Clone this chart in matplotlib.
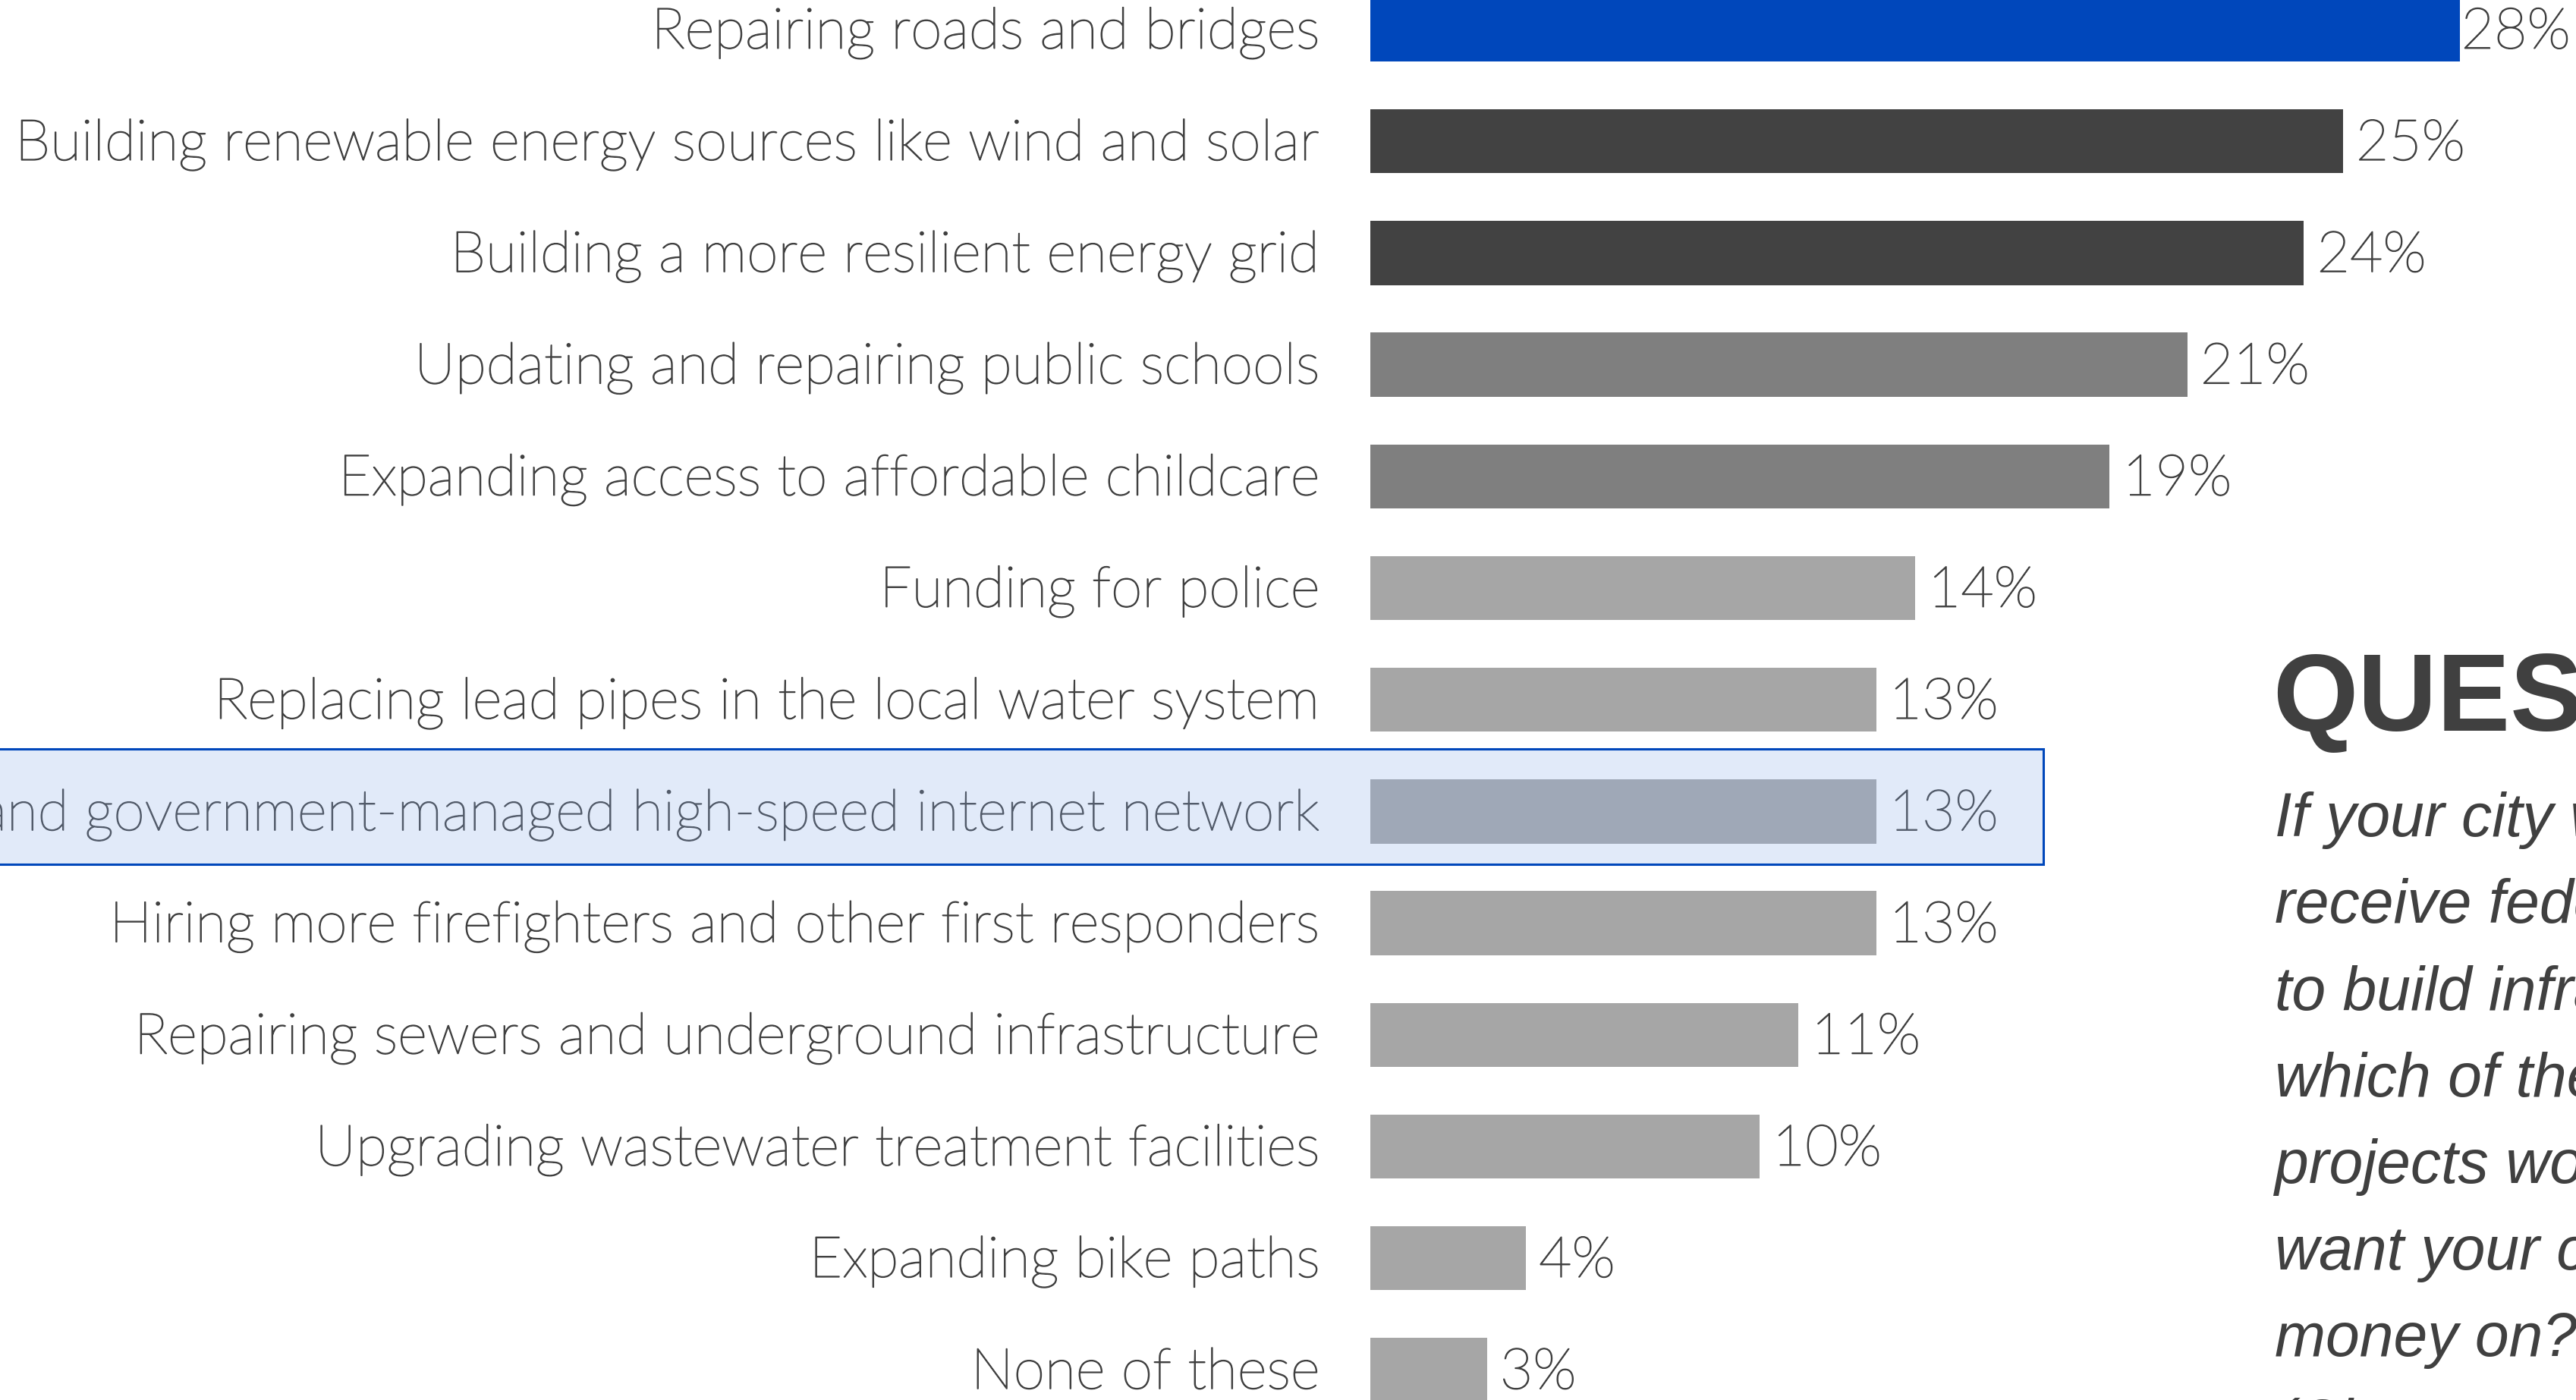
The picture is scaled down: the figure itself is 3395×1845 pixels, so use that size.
import matplotlib
matplotlib.use("Agg")
import matplotlib.pyplot as plt
import matplotlib.patheffects as pe
from matplotlib.patches import Rectangle

# survey results, top to bottom
projects = [
    "Repairing roads and bridges",
    "Building renewable energy sources like wind and solar",
    "Building a more resilient energy grid",
    "Updating and repairing public schools",
    "Expanding access to affordable childcare",
    "Funding for police",
    "Replacing lead pipes in the local water system",
    "Building a city-owned and government-managed high-speed internet network",
    "Hiring more firefighters and other first responders",
    "Repairing sewers and underground infrastructure",
    "Upgrading wastewater treatment facilities",
    "Expanding bike paths",
    "None of these",
]
shares = [28, 25, 24, 21, 19, 14, 13, 13, 13, 11, 10, 4, 3]
tiers = ["top", "dark", "dark", "mid", "mid", "light", "light", "light",
         "light", "light", "light", "light", "light"]
highlight_row = 7

question_title = "QUESTION"
question_lines = [
    "If your city were to",
    "receive federal funding",
    "to build infrastructure,",
    "which of these",
    "projects would you most",
    "want your city to spend",
    "money on?",
    "(Choose up to three)",
]

TIER_COLORS = {"top": "#0047BB", "dark": "#424242", "mid": "#7F7F7F", "light": "#A6A6A6"}
TEXT = "#404040"

W, H = 3395, 1845
fig = plt.figure(figsize=(W / 100, H / 100), dpi=100)
fig.patch.set_facecolor("white")

# axes covers the whole canvas; data units: 1% = 51.27 px, x=0 at 1806 px
px_per_pct = 51.27
x0_px = 1806
row_px = 147.2
row0_px = 39
ax = fig.add_axes([0, 0, 1, 1])
ax.set_xlim(-x0_px / px_per_pct, (W - x0_px) / px_per_pct)
ax.set_ylim((H - row0_px) / row_px, -row0_px / row_px)
ax.axis("off")

rows = list(range(len(projects)))
colors = [TIER_COLORS[t] for t in tiers]
ax.barh(rows, shares, height=0.574, color=colors, zorder=2)

# thin geometric face; a hairline stroke keeps the light weight from washing out
label_font = dict(family="Lato", fontweight="light", fontsize=54, color=TEXT,
                  path_effects=[pe.withStroke(linewidth=1.1, foreground=TEXT)])
label_x = -66 / px_per_pct
for i, (name, val) in enumerate(zip(projects, shares)):
    ax.text(label_x, i + 0.03, name, ha="right", va="center", zorder=3, **label_font)
    pad = 2 if i == 0 else 17
    ax.text(val + pad / px_per_pct, i + 0.03, f"{val}%", ha="left", va="center",
            zorder=3, **label_font)

# highlighted row: translucent blue wash plus solid outline
box_left = -40
box_right = (2693 - x0_px) / px_per_pct
box_top = (987 - row0_px) / row_px
box_bottom = (1139 - row0_px) / row_px
ax.add_patch(Rectangle((box_left, box_top), box_right - box_left, box_bottom - box_top,
                       facecolor=(139 / 255, 175 / 255, 235 / 255), alpha=0.25,
                       edgecolor="none", zorder=5))
ax.add_patch(Rectangle((box_left, box_top), box_right - box_left, box_bottom - box_top,
                       facecolor="none", edgecolor="#0047BB", linewidth=2.2, zorder=6))

# question panel on the right
fig.text(2995 / W, 1 - 963 / H, question_title, ha="left", va="baseline",
         family="Liberation Sans", fontweight="bold", fontsize=104, color=TEXT)
for k, line in enumerate(question_lines):
    base = 1102 + 114.2 * k
    fig.text(2998 / W, 1 - base / H, line, ha="left", va="baseline",
             family="Liberation Sans", style="italic", fontsize=58, color=TEXT)

fig.savefig("out.png", dpi=100, facecolor="white")
